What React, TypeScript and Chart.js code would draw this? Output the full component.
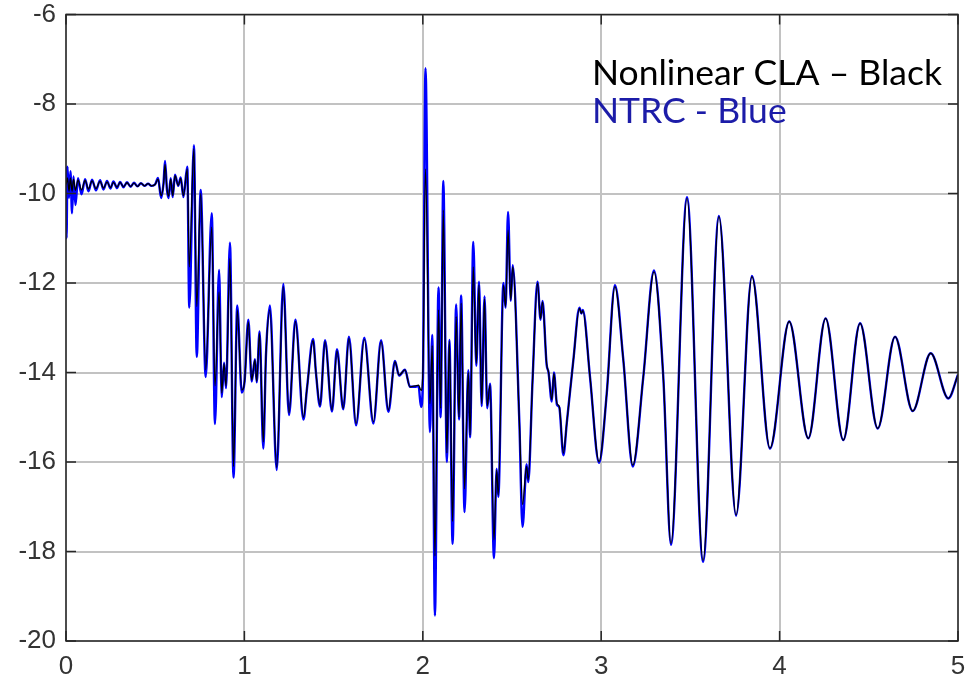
import { useEffect, useRef } from "react";
import { Chart, registerables } from "chart.js";

Chart.register(...registerables);

// time axis (shared by both series)
const T = [
  0.000, 0.003, 0.008, 0.017, 0.025, 0.034, 0.042, 0.053, 0.067, 0.087,
  0.107, 0.126, 0.146, 0.168, 0.191, 0.210, 0.230, 0.249, 0.266, 0.286,
  0.303, 0.322, 0.342, 0.362, 0.381, 0.401, 0.420, 0.440, 0.460, 0.479,
  0.499, 0.516, 0.533, 0.547, 0.555, 0.566, 0.575, 0.587, 0.598, 0.611,
  0.629, 0.643, 0.658, 0.680, 0.691, 0.717, 0.733, 0.755, 0.783, 0.817,
  0.835, 0.858, 0.873, 0.886, 0.897, 0.919, 0.939, 0.960, 0.985, 1.001,
  1.022, 1.041, 1.059, 1.069, 1.085, 1.106, 1.121, 1.143, 1.181, 1.218,
  1.250, 1.286, 1.331, 1.351, 1.385, 1.401, 1.424, 1.452, 1.491, 1.519,
  1.554, 1.586, 1.626, 1.672, 1.723, 1.766, 1.807, 1.844, 1.867, 1.900,
  1.928, 1.956, 1.976, 1.990, 2.001, 2.015, 2.040, 2.053, 2.068, 2.088,
  2.100, 2.115, 2.135, 2.149, 2.167, 2.187, 2.203, 2.215, 2.234, 2.255,
  2.265, 2.283, 2.300, 2.315, 2.330, 2.346, 2.361, 2.377, 2.399, 2.414,
  2.423, 2.452, 2.464, 2.478, 2.493, 2.504, 2.541, 2.559, 2.582, 2.591,
  2.615, 2.643, 2.660, 2.671, 2.694, 2.705, 2.723, 2.735, 2.752, 2.765,
  2.788, 2.807, 2.844, 2.878, 2.889, 2.897, 2.937, 2.988, 3.031, 3.077,
  3.124, 3.177, 3.236, 3.296, 3.348, 3.391, 3.481, 3.571, 3.660, 3.756,
  3.845, 3.946, 4.054, 4.161, 4.258, 4.357, 4.451, 4.550, 4.647, 4.746,
  4.847, 4.946, 5.000,
];

// Nonlinear CLA (black)
const CLA = [
  -9.80, -9.75, -9.65, -9.95, -9.65, -9.95, -9.68, -9.93, -9.70, -9.92,
  -9.71, -9.90, -9.72, -9.89, -9.73, -9.88, -9.74, -9.87, -9.75, -9.86,
  -9.75, -9.85, -9.76, -9.84, -9.77, -9.84, -9.77, -9.83, -9.78, -9.83,
  -9.80, -9.68, -10.05, -9.78, -9.35, -9.90, -10.06, -9.68, -10.05, -9.60,
  -9.82, -9.66, -10.05, -9.45, -11.64, -9.00, -12.53, -10.00, -13.94, -10.75,
  -14.30, -12.20, -14.46, -13.80, -14.30, -11.45, -16.10, -12.60, -14.39, -14.20,
  -12.87, -14.17, -13.72, -14.20, -13.12, -15.55, -13.60, -12.60, -16.12, -12.08,
  -14.90, -12.86, -15.00, -14.35, -13.28, -14.00, -14.73, -13.31, -14.84, -13.52,
  -14.80, -13.24, -15.14, -13.26, -15.10, -13.31, -14.84, -13.76, -14.06, -13.94,
  -14.32, -14.30, -14.28, -14.40, -13.90, -9.45, -14.70, -13.40, -18.10, -12.60,
  -14.80, -10.37, -15.80, -13.30, -17.33, -12.75, -15.00, -12.45, -16.60, -14.00,
  -15.40, -11.64, -13.80, -12.05, -14.70, -12.35, -14.75, -14.28, -17.74, -16.18,
  -16.74, -12.05, -12.53, -10.82, -12.38, -11.64, -15.06, -16.95, -16.10, -16.40,
  -14.20, -12.00, -12.80, -12.42, -13.80, -14.00, -14.61, -14.02, -14.69, -14.76,
  -15.80, -15.13, -13.72, -12.57, -12.68, -12.62, -14.09, -15.99, -14.47, -12.08,
  -13.72, -16.07, -14.10, -11.75, -14.10, -17.82, -10.11, -18.20, -10.52, -17.18,
  -11.86, -15.69, -12.86, -15.47, -12.79, -15.51, -12.90, -15.25, -13.20, -14.86,
  -13.57, -14.58, -14.05,
];

// NTRC (blue)
const NTRC = [
  -9.40, -11.00, -9.40, -10.10, -9.50, -10.44, -9.62, -10.26, -9.66, -10.02,
  -9.68, -9.95, -9.69, -9.93, -9.70, -9.91, -9.72, -9.89, -9.73, -9.88,
  -9.74, -9.86, -9.75, -9.85, -9.76, -9.84, -9.77, -9.83, -9.78, -9.83,
  -9.80, -9.65, -10.10, -9.75, -9.27, -9.92, -10.10, -9.66, -10.08, -9.58,
  -9.83, -9.64, -10.08, -9.40, -12.55, -8.92, -13.65, -9.92, -14.10, -10.44,
  -15.15, -11.71, -14.55, -13.78, -14.35, -11.10, -16.35, -12.50, -14.45, -14.20,
  -12.82, -14.20, -13.70, -14.22, -13.08, -15.70, -13.60, -12.50, -16.18, -12.02,
  -14.95, -12.82, -15.05, -14.35, -13.25, -14.00, -14.76, -13.28, -14.87, -13.48,
  -14.82, -13.20, -15.18, -13.22, -15.14, -13.28, -14.88, -13.74, -14.07, -13.94,
  -14.32, -14.32, -14.30, -14.77, -14.10, -7.20, -15.33, -13.16, -19.43, -12.10,
  -15.00, -9.72, -16.00, -13.27, -17.83, -12.48, -15.05, -12.28, -17.12, -13.95,
  -15.45, -11.08, -13.85, -11.97, -14.75, -12.30, -14.80, -14.25, -18.15, -16.15,
  -16.78, -12.00, -12.55, -10.41, -12.40, -11.60, -15.08, -17.45, -16.05, -16.45,
  -14.20, -11.97, -12.82, -12.40, -13.82, -14.00, -14.65, -14.00, -14.72, -14.78,
  -15.85, -15.13, -13.72, -12.55, -12.68, -12.60, -14.09, -16.02, -14.47, -12.05,
  -13.72, -16.10, -14.10, -11.72, -14.10, -17.85, -10.08, -18.23, -10.50, -17.20,
  -11.84, -15.70, -12.86, -15.47, -12.79, -15.51, -12.90, -15.25, -13.20, -14.86,
  -13.57, -14.58, -14.05,
];

const X_MIN = 0;
const X_MAX = 5;
const X_STEP = 1;
const Y_MIN = -20;
const Y_MAX = -6;
const Y_STEP = 2;

const NOTE_CLA = "Nonlinear CLA – Black";
const NOTE_NTRC = "NTRC - Blue";

export default function App() {
  const ref = useRef<HTMLCanvasElement | null>(null);

  useEffect(() => {
    const canvas = ref.current;
    if (!canvas) return;

    const framePlugin = {
      id: "frame",
      afterDraw(chart: any) {
        const { ctx, chartArea: a, scales } = chart;
        ctx.save();
        ctx.strokeStyle = "#262626";
        ctx.lineWidth = 1.5;
        ctx.strokeRect(a.left, a.top, a.right - a.left, a.bottom - a.top);
        const len = 10;
        ctx.beginPath();
        for (const t of scales.x.ticks) {
          const px = scales.x.getPixelForValue(t.value);
          ctx.moveTo(px, a.bottom);
          ctx.lineTo(px, a.bottom - len);
          ctx.moveTo(px, a.top);
          ctx.lineTo(px, a.top + len);
        }
        for (const t of scales.y.ticks) {
          const py = scales.y.getPixelForValue(t.value);
          ctx.moveTo(a.left, py);
          ctx.lineTo(a.left + len, py);
          ctx.moveTo(a.right, py);
          ctx.lineTo(a.right - len, py);
        }
        ctx.stroke();
        ctx.restore();
      },
    };

    const notesPlugin = {
      id: "notes",
      afterDraw(chart: any) {
        const { ctx, chartArea: a } = chart;
        ctx.save();
        ctx.font = "35.5px Lato";
        ctx.textBaseline = "alphabetic";
        ctx.textAlign = "left";
        ctx.fillStyle = "#000000";
        ctx.fillText(NOTE_CLA, a.left + 526, a.top + 70);
        ctx.fillStyle = "#1c1ca8";
        ctx.fillText(NOTE_NTRC, a.left + 526, a.top + 108);
        ctx.restore();
      },
    };

    const chart = new Chart(canvas, {
      type: "line",
      data: {
        datasets: [
          {
            label: NOTE_CLA,
            data: T.map((t, i) => ({ x: t, y: CLA[i] })),
            borderColor: "#000000",
            borderWidth: 1.3,
            pointRadius: 0,
            cubicInterpolationMode: "monotone",
            fill: false,
            order: 0,
          },
          {
            label: NOTE_NTRC,
            data: T.map((t, i) => ({ x: t, y: NTRC[i] })),
            borderColor: "#0000ff",
            borderWidth: 2.4,
            pointRadius: 0,
            cubicInterpolationMode: "monotone",
            fill: false,
            order: 1,
          },
        ],
      },
      options: {
        animation: false,
        responsive: false,
        maintainAspectRatio: false,
        layout: { padding: { top: 14.5, right: 12, left: 0, bottom: 0 } },
        plugins: {
          legend: { display: false },
          tooltip: { enabled: false },
        },
        scales: {
          x: {
            type: "linear",
            min: X_MIN,
            max: X_MAX,
            afterFit: (s: any) => {
              s.height = 42;
              s.paddingLeft = 0;
              s.paddingRight = 0;
            },
            ticks: {
              stepSize: X_STEP,
              color: "#333333",
              font: { family: "'Liberation Sans', Arial, sans-serif", size: 26 },
              padding: 10,
              maxRotation: 0,
            },
            grid: { color: "#c2c2c2", lineWidth: 2, drawTicks: false },
            border: { display: false },
          },
          y: {
            type: "linear",
            min: Y_MIN,
            max: Y_MAX,
            afterFit: (s: any) => {
              s.width = 66;
              s.paddingTop = 0;
              s.paddingBottom = 0;
            },
            ticks: {
              stepSize: Y_STEP,
              color: "#333333",
              font: { family: "'Liberation Sans', Arial, sans-serif", size: 26 },
              padding: 10,
            },
            grid: { color: "#c2c2c2", lineWidth: 2, drawTicks: false },
            border: { display: false },
          },
        },
      },
      plugins: [framePlugin, notesPlugin],
    } as any);

    return () => chart.destroy();
  }, []);

  return (
    <div style={{ position: "absolute", left: 0, top: 0, width: 970, height: 683 }}>
      <canvas ref={ref} width={970} height={683} style={{ display: "block" }} />
    </div>
  );
}
